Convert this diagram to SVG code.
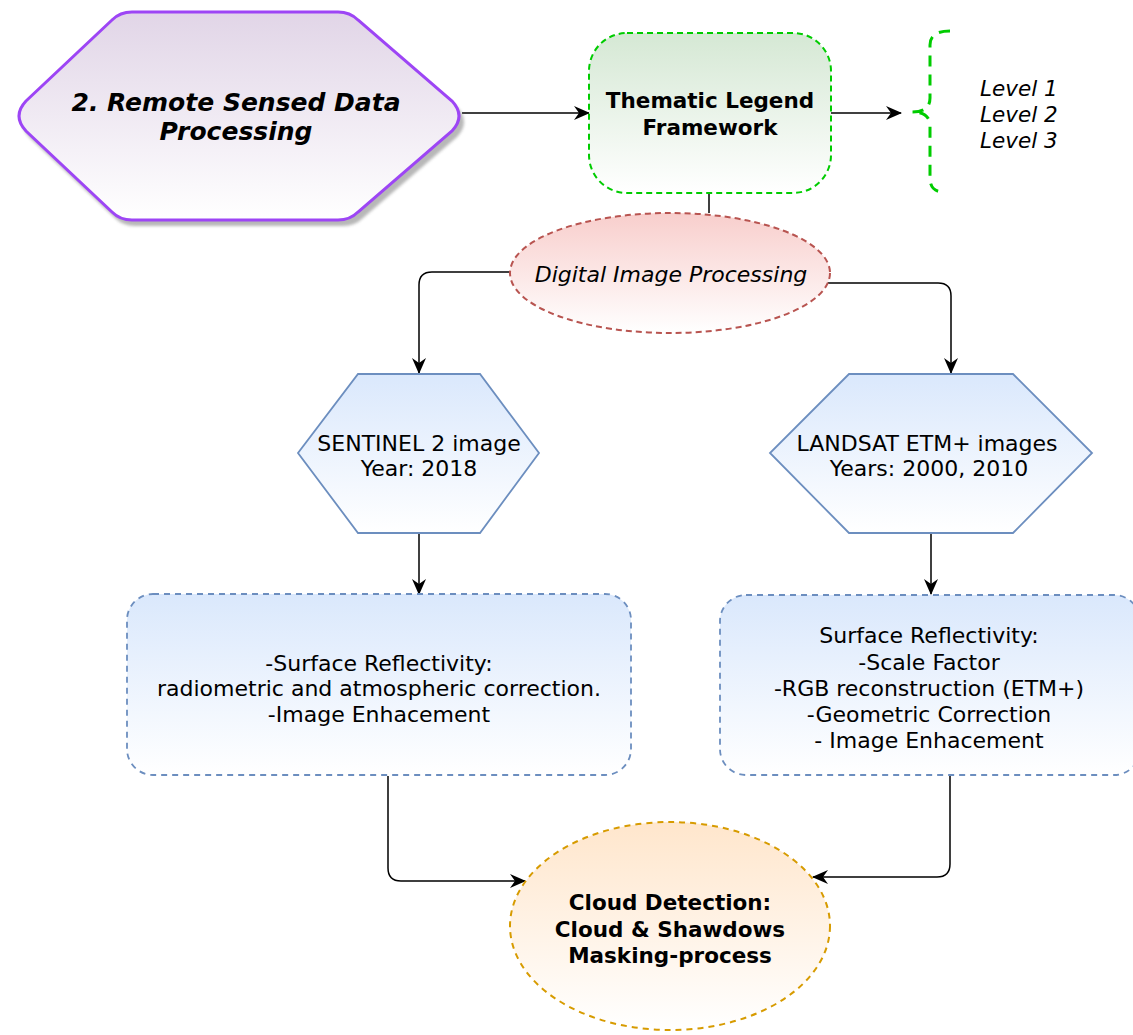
<svg xmlns="http://www.w3.org/2000/svg" width="1133" height="1035" viewBox="0 0 1133 1035">
  <style>
    .t { font-family: "DejaVu Sans", Verdana, sans-serif; fill: #000; text-anchor: middle; }
    .reg { font-size: 22px; }
    .bold { font-size: 21.5px; font-weight: bold; }
    .it { font-size: 22px; font-style: italic; }
    .lvl { font-size: 21.5px; font-style: italic; text-anchor: start; }
    .title { font-size: 25px; font-weight: bold; font-style: italic; }
    .edge { fill: none; stroke: #000; stroke-width: 1.5; }
  </style>
  <defs>
    <linearGradient id="gPurple" x1="0" y1="0" x2="0" y2="1">
      <stop offset="0" stop-color="#e1d5e7"/><stop offset="1" stop-color="#ffffff"/>
    </linearGradient>
    <linearGradient id="gGreen" x1="0" y1="0" x2="0" y2="1">
      <stop offset="0" stop-color="#d5e8d4"/><stop offset="1" stop-color="#ffffff"/>
    </linearGradient>
    <linearGradient id="gRed" x1="0" y1="0" x2="0" y2="1">
      <stop offset="0" stop-color="#f8cecc"/><stop offset="1" stop-color="#ffffff"/>
    </linearGradient>
    <linearGradient id="gBlue" x1="0" y1="0" x2="0" y2="1">
      <stop offset="0" stop-color="#dae8fc"/><stop offset="1" stop-color="#ffffff"/>
    </linearGradient>
    <linearGradient id="gOrange" x1="0" y1="0" x2="0" y2="1">
      <stop offset="0" stop-color="#ffe6cc"/><stop offset="1" stop-color="#ffffff"/>
    </linearGradient>
    <filter id="soft" x="-10%" y="-10%" width="120%" height="120%">
      <feGaussianBlur stdDeviation="1.5"/>
    </filter>
    <marker id="arrow" viewBox="0 0 16 14" markerWidth="16" markerHeight="14" refX="15" refY="7" orient="auto" markerUnits="userSpaceOnUse">
      <path d="M0,0 L16,7 L0,14 L5,7 Z" fill="#000"/>
    </marker>
  </defs>

  <!-- connectors -->
  <g id="connectors">
    <path class="edge" d="M462,113 L589,113" marker-end="url(#arrow)"/>
    <path class="edge" d="M831,113 L901,113" marker-end="url(#arrow)"/>
    <path class="edge" d="M709,193 L709,213"/>
    <path class="edge" d="M510,272 L432,272 Q419,272 419,285 L419,373" marker-end="url(#arrow)"/>
    <path class="edge" d="M827,283 L938,283 Q951,283 951,296 L951,373" marker-end="url(#arrow)"/>
    <path class="edge" d="M419,534 L419,594" marker-end="url(#arrow)"/>
    <path class="edge" d="M931,534 L931,594" marker-end="url(#arrow)"/>
    <path class="edge" d="M388,776 L388,868 Q388,881 401,881 L525,881" marker-end="url(#arrow)"/>
    <path class="edge" d="M950,776 L950,864 Q950,877 937,877 L813,877" marker-end="url(#arrow)"/>
  </g>

  <!-- 2. Remote Sensed Data Processing -->
  <g id="node-remote-sensing">
    <path d="M26,101 L112,22 Q120,14 132,14 L340,14 Q352,14 360,22 L454,103 Q468,118 454,133 L360,214 Q352,222 340,222 L132,222 Q120,222 112,214 L26,133 Q12,118 26,101 Z" fill="#888" opacity="0.6" filter="url(#soft)" transform="translate(3,4)"/>
    <path d="M26,101 L112,20 Q120,12 132,12 L338,12 Q350,12 358,20 L452,101 Q466,116 452,131 L358,212 Q350,220 338,220 L132,220 Q120,220 112,212 L26,131 Q12,116 26,101 Z" fill="url(#gPurple)" stroke="#9d45f5" stroke-width="3"/>
    <text class="t title" x="236" y="111">2. Remote Sensed Data</text>
    <text class="t title" x="236" y="140">Processing</text>
  </g>

  <!-- Thematic Legend Framework -->
  <g id="node-legend">
    <rect x="589" y="33" width="242" height="160" rx="38" ry="38" fill="url(#gGreen)" stroke="#00cc00" stroke-width="2" stroke-dasharray="6 4"/>
    <text class="t bold" x="710" y="108">Thematic Legend</text>
    <text class="t bold" x="710" y="135">Framework</text>
  </g>

  <!-- Levels brace -->
  <g id="node-levels">
    <path d="M950,31 Q930,31 930,45 L930,98 Q930,112 912,112 Q930,112 930,126 L930,178 Q930,192 944,192" fill="none" stroke="#00cc00" stroke-width="3" stroke-dasharray="11 8"/>
    <text class="t lvl" x="980" y="96">Level 1</text>
    <text class="t lvl" x="980" y="122">Level 2</text>
    <text class="t lvl" x="980" y="148">Level 3</text>
  </g>

  <!-- Digital Image Processing -->
  <g id="node-dip">
    <ellipse cx="670" cy="273" rx="160" ry="60" fill="url(#gRed)" stroke="#b85450" stroke-width="2" stroke-dasharray="6 4"/>
    <text class="t it" x="671" y="282">Digital Image Processing</text>
  </g>

  <!-- SENTINEL 2 -->
  <g id="node-sentinel">
    <path d="M358,374 L480,374 L539,453 L480,533 L358,533 L298,453 Z" fill="url(#gBlue)" stroke="#6c8ebf" stroke-width="1.8"/>
    <text class="t reg" x="419" y="451">SENTINEL 2 image</text>
    <text class="t reg" x="419" y="476">Year: 2018</text>
  </g>

  <!-- LANDSAT ETM+ -->
  <g id="node-landsat">
    <path d="M849,374 L1013,374 L1092,453 L1013,533 L849,533 L770,453 Z" fill="url(#gBlue)" stroke="#6c8ebf" stroke-width="1.8"/>
    <text class="t reg" x="927" y="451">LANDSAT ETM+ images</text>
    <text class="t reg" x="929" y="476">Years: 2000, 2010</text>
  </g>

  <!-- Sentinel preprocessing -->
  <g id="node-sentinel-proc">
    <rect x="127" y="594" width="504" height="181" rx="26" ry="26" fill="url(#gBlue)" stroke="#6c8ebf" stroke-width="1.8" stroke-dasharray="6 5"/>
    <text class="t reg" x="379" y="671">-Surface Reflectivity:</text>
    <text class="t reg" x="379" y="696">radiometric and atmospheric correction.</text>
    <text class="t reg" x="379" y="722">-Image Enhacement</text>
  </g>

  <!-- Landsat preprocessing -->
  <g id="node-landsat-proc">
    <rect x="720" y="595" width="420" height="180" rx="26" ry="26" fill="url(#gBlue)" stroke="#6c8ebf" stroke-width="1.8" stroke-dasharray="6 5"/>
    <text class="t reg" x="929" y="643">Surface Reflectivity:</text>
    <text class="t reg" x="929" y="670">-Scale Factor</text>
    <text class="t reg" x="929" y="696">-RGB reconstruction (ETM+)</text>
    <text class="t reg" x="929" y="722">-Geometric Correction</text>
    <text class="t reg" x="929" y="748">- Image Enhacement</text>
  </g>

  <!-- Cloud detection -->
  <g id="node-cloud">
    <ellipse cx="670" cy="926" rx="160" ry="104" fill="url(#gOrange)" stroke="#d79b00" stroke-width="2" stroke-dasharray="6 5"/>
    <text class="t bold" x="670" y="910">Cloud Detection:</text>
    <text class="t bold" x="670" y="937">Cloud &amp; Shawdows</text>
    <text class="t bold" x="670" y="963">Masking-process</text>
  </g>
</svg>
